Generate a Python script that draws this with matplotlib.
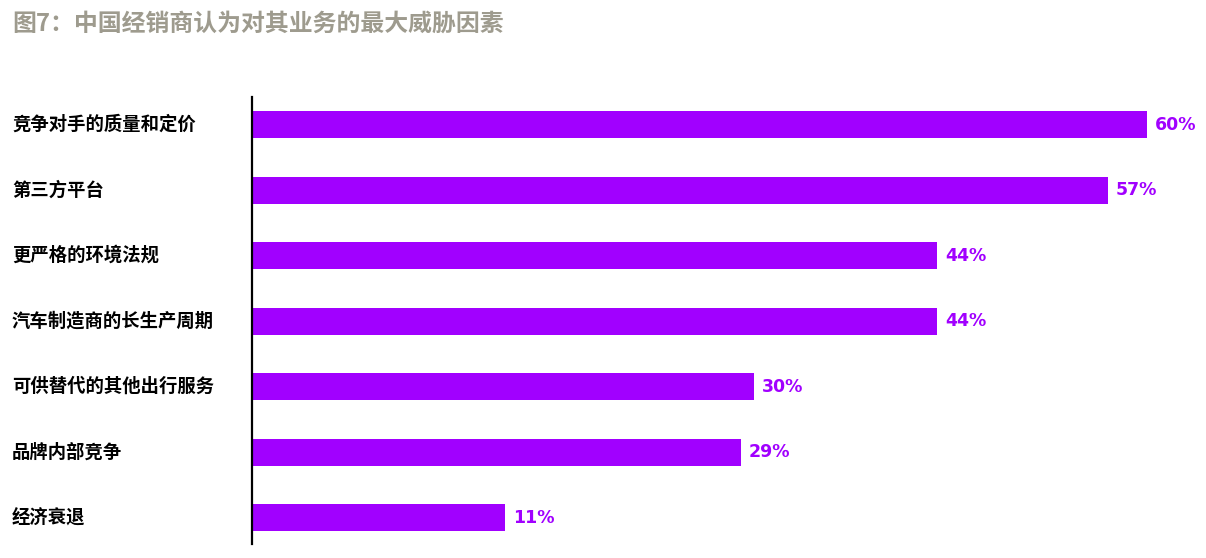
import numpy as np
import matplotlib
matplotlib.use("Agg")
import matplotlib.pyplot as plt
import matplotlib.transforms as mtransforms

plt.rcParams['font.family'] = ['Noto Sans CJK SC', 'DejaVu Sans']

title = "图7：中国经销商认为对其业务的最大威胁因素"
categories = ["竞争对手的质量和定价", "第三方平台", "更严格的环境法规", "汽车制造商的长生产周期",
              "可供替代的其他出行服务", "品牌内部竞争", "经济衰退"]
values = [60, 57, 44, 44, 30, 29, 11]

purple = "#A100FF"
base = -8.3  # the bars start left of zero in the original

fig = plt.figure(figsize=(12.06, 5.58), dpi=100)
ax = fig.add_axes([252 / 1206, 14 / 558, 948 / 1206, 447 / 558])

y = np.arange(len(categories))
vals = np.array(values, dtype=float)
ax.barh(y, vals - base, left=base, height=0.41, color=purple)

ax.set_xlim(base, 64.05)
ax.set_ylim(len(categories) - 1 + 0.4, -0.42)

for s in ["top", "right", "bottom"]:
    ax.spines[s].set_visible(False)
ax.spines["left"].set_linewidth(1.6)
ax.spines["left"].set_color("black")
ax.set_xticks([])
ax.set_yticks([])

trans = mtransforms.blended_transform_factory(fig.transFigure, ax.transData)
for yi, cat in zip(y, categories):
    ax.text(12 / 1206, yi, cat, transform=trans, ha="left", va="center",
            fontsize=13.2, fontweight="bold", color="black")

for yi, v in zip(y, values):
    ax.text(v + 0.6, yi, f"{v}%", ha="left", va="center", fontsize=12.5,
            fontweight="bold", color=purple, family=["DejaVu Sans"])

fig.text(12 / 1206, 1 - 24 / 558, title, ha="left", va="center", fontsize=17.2,
         fontweight="bold", color="#9E9B8E")

fig.savefig("out.png", dpi=100)
